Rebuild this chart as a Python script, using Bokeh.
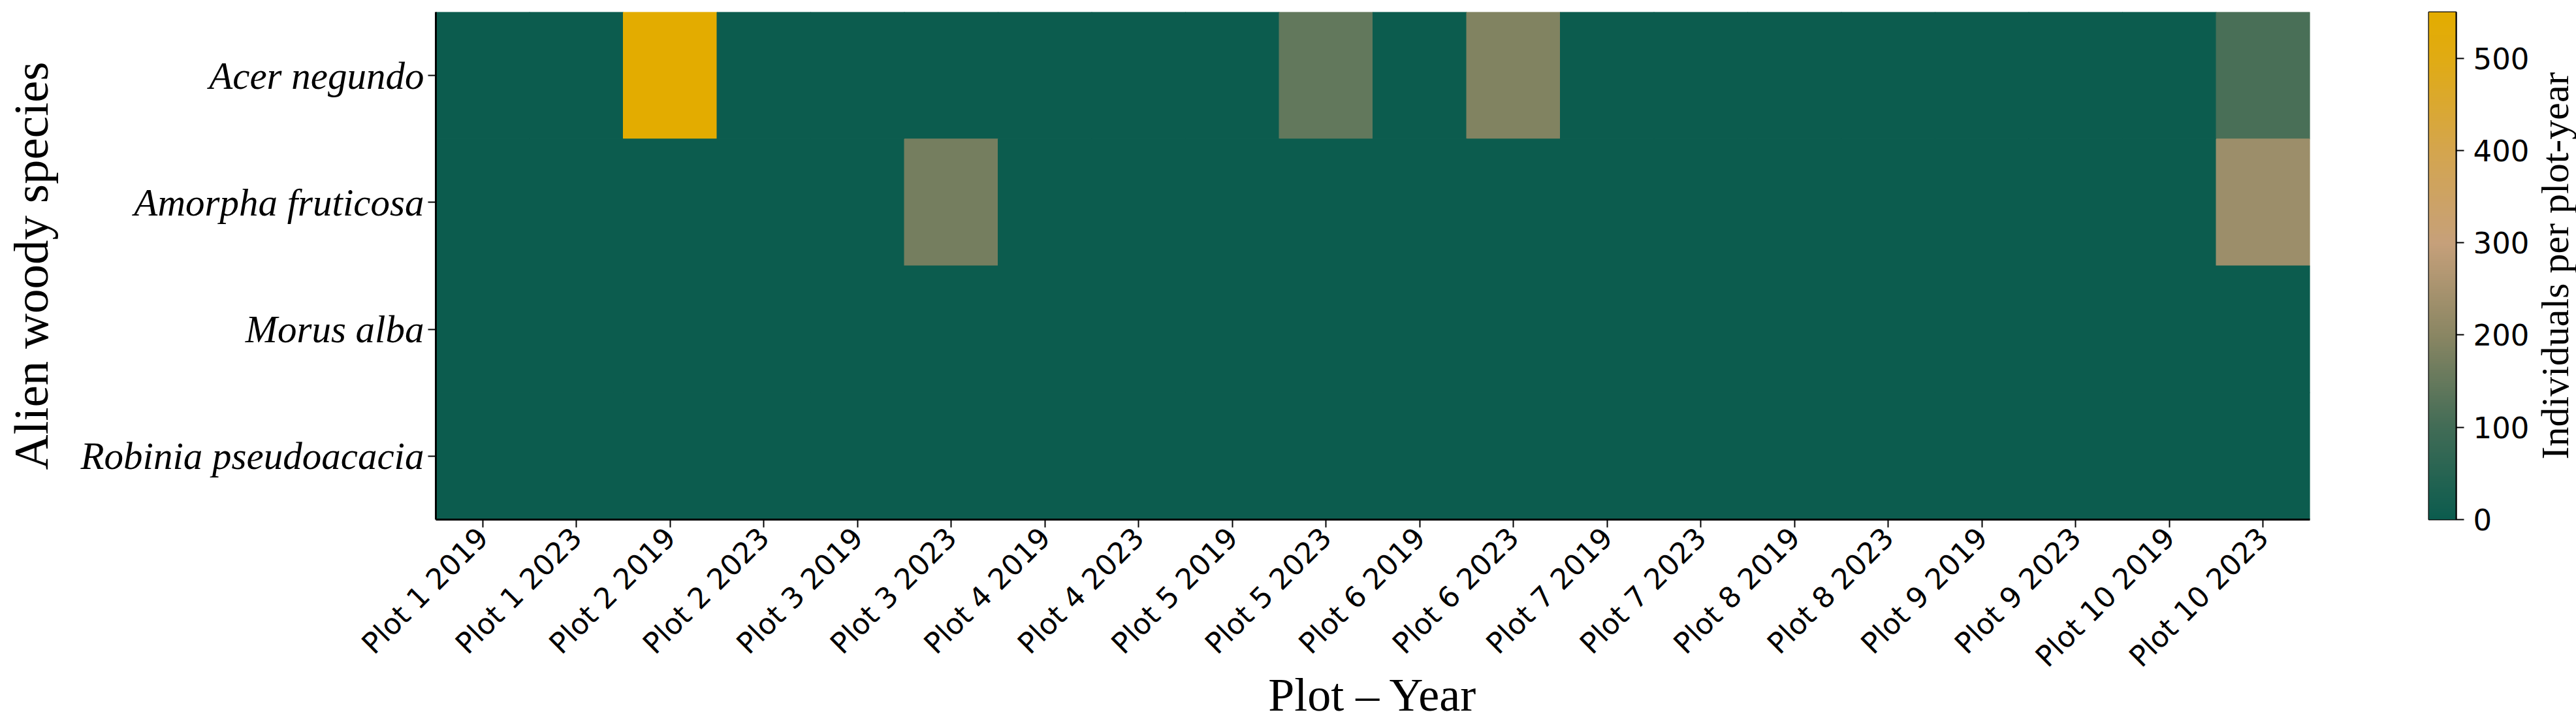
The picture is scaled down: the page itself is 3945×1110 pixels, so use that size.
import math
import numpy as np
from bokeh.plotting import figure
from bokeh.models import (ColumnDataSource, FactorRange, LinearColorMapper, Range1d,
                          FixedTicker)
from bokeh.transform import transform
from bokeh.layouts import row
from bokeh.embed import file_html
from bokeh.resources import INLINE

# ---------------- data ----------------
species = ["Acer negundo", "Amorpha fruticosa", "Morus alba", "Robinia pseudoacacia"]
plot_years = ["Plot 1 2019", "Plot 1 2023", "Plot 2 2019", "Plot 2 2023",
              "Plot 3 2019", "Plot 3 2023", "Plot 4 2019", "Plot 4 2023",
              "Plot 5 2019", "Plot 5 2023", "Plot 6 2019", "Plot 6 2023",
              "Plot 7 2019", "Plot 7 2023", "Plot 8 2019", "Plot 8 2023",
              "Plot 9 2019", "Plot 9 2023", "Plot 10 2019", "Plot 10 2023"]
acer_negundo = [0, 0, 550, 0, 0, 0, 0, 0, 0, 145, 0, 188, 0, 0, 0, 0, 0, 0, 0, 110]
amorpha_fruticosa = [0, 0, 0, 0, 0, 170, 0, 0, 0, 0, 0, 0, 0, 0, 0, 0, 0, 0, 0, 230]
morus_alba = [0, 0, 0, 0, 0, 0, 0, 0, 0, 0, 0, 0, 0, 0, 0, 0, 0, 0, 0, 0]
robinia_pseudoacacia = [0, 0, 0, 0, 0, 0, 0, 0, 0, 0, 0, 0, 0, 0, 0, 0, 0, 0, 0, 0]
cbar_ticks = [0, 100, 200, 300, 400, 500]
vmin, vmax = 0, 550
cbar_title = "Individuals per plot-year"

series = {"Acer negundo": acer_negundo, "Amorpha fruticosa": amorpha_fruticosa,
          "Morus alba": morus_alba, "Robinia pseudoacacia": robinia_pseudoacacia}
xs, ys, vs = [], [], []
for sp in species:
    for pl, v in zip(plot_years, series[sp]):
        xs.append(pl); ys.append(sp); vs.append(v)
src = ColumnDataSource(dict(plot=xs, species=ys, value=vs))

# ---------------- colour map ----------------
anchors_t = [0.0, 0.182, 0.364, 0.545, 0.727, 0.909, 1.0]
anchors_c = [(12, 92, 78), (66, 108, 86), (138, 134, 99), (198, 160, 122),
             (212, 165, 78), (224, 171, 20), (227, 172, 0)]
tt = np.linspace(0, 1, 256)
palette = []
for t in tt:
    r = np.interp(t, anchors_t, [c[0] for c in anchors_c])
    g = np.interp(t, anchors_t, [c[1] for c in anchors_c])
    b = np.interp(t, anchors_t, [c[2] for c in anchors_c])
    palette.append("#%02x%02x%02x" % (int(round(r)), int(round(g)), int(round(b))))
mapper = LinearColorMapper(palette=palette, low=vmin, high=vmax)

SERIF = "Liberation Serif"
SANS = "DejaVu Sans"

# ---------------- heatmap ----------------
p = figure(x_range=FactorRange(*plot_years), y_range=FactorRange(*species[::-1]),
           frame_width=2870, frame_height=777,
           min_border_left=667, min_border_right=163, min_border_top=18, min_border_bottom=5,
           output_backend="svg", toolbar_location=None)
p.rect(x="plot", y="species", width=1, height=1, source=src,
       fill_color=transform("value", mapper), line_color=transform("value", mapper),
       line_width=1)
p.xgrid.grid_line_color = None
p.ygrid.grid_line_color = None
p.outline_line_color = None
p.background_fill_color = "white"

for ax in (p.xaxis[0], p.yaxis[0]):
    ax.axis_line_color = "black"
    ax.axis_line_width = 3
    ax.major_tick_line_color = "black"
    ax.major_tick_line_width = 2
    ax.major_tick_out = 12
    ax.major_tick_in = 0
    ax.minor_tick_line_color = None
    ax.major_label_text_color = "black"
    ax.axis_label_text_color = "black"
    ax.axis_label_text_font = SERIF
    ax.axis_label_text_font_style = "normal"

p.xaxis.major_label_orientation = math.pi / 4
p.xaxis.major_label_text_font = SANS
p.xaxis.major_label_text_font_size = "44px"
p.xaxis.major_label_standoff = 8
p.xaxis.axis_label = "Plot \u2013 Year"
p.xaxis.axis_label_text_font_size = "72px"
p.xaxis.axis_label_standoff = -28

p.yaxis.major_label_text_font = SERIF
p.yaxis.major_label_text_font_style = "italic"
p.yaxis.major_label_text_font_size = "59px"
p.yaxis.major_label_standoff = 6
p.yaxis.axis_label = "Alien woody species"
p.yaxis.axis_label_text_font_size = "75px"
p.yaxis.axis_label_standoff = 32

# ---------------- colour bar ----------------
grad = np.linspace(vmin, vmax, 512).reshape(-1, 1)
cb = figure(x_range=Range1d(0, 1), y_range=Range1d(vmin, vmax),
            frame_width=42, frame_height=777, y_axis_location="right",
            min_border_left=19, min_border_right=0, min_border_top=18, min_border_bottom=30,
            output_backend="svg", toolbar_location=None)
cb.image(image=[grad], x=0, y=vmin, dw=1, dh=vmax - vmin, color_mapper=mapper)
cb.xaxis.visible = False
cb.xgrid.grid_line_color = None
cb.ygrid.grid_line_color = None
cb.outline_line_color = "black"
cb.outline_line_width = 2
ya = cb.yaxis[0]
ya.ticker = FixedTicker(ticks=cbar_ticks)
ya.axis_line_color = "black"
ya.axis_line_width = 2
ya.major_tick_line_color = "black"
ya.major_tick_line_width = 2
ya.major_tick_out = 12
ya.major_tick_in = 0
ya.minor_tick_line_color = None
ya.major_label_text_font = SANS
ya.major_label_text_font_size = "45px"
ya.major_label_text_color = "black"
ya.major_label_standoff = 14

# colour-bar title: a label-only left axis of a thin companion panel (reads bottom-to-top)
ct = figure(x_range=Range1d(0, 1), y_range=Range1d(vmin, vmax),
            frame_width=1, frame_height=777,
            min_border_left=0, min_border_right=0, min_border_top=18, min_border_bottom=30,
            output_backend="svg", toolbar_location=None)
ct.xaxis.visible = False
ct.xgrid.grid_line_color = None
ct.ygrid.grid_line_color = None
ct.outline_line_color = None
ta = ct.yaxis[0]
ta.ticker = FixedTicker(ticks=[])
ta.axis_line_color = None
ta.major_tick_line_color = None
ta.minor_tick_line_color = None
ta.major_label_text_font_size = "0px"
ta.major_label_standoff = 0
ta.major_tick_out = 0
ta.axis_label = cbar_title
ta.axis_label_text_font = SERIF
ta.axis_label_text_font_style = "normal"
ta.axis_label_text_font_size = "60px"
ta.axis_label_text_color = "black"
ta.axis_label_standoff = 0

layout = row(p, cb, ct)
open("out.html", "w").write(file_html(layout, INLINE))
